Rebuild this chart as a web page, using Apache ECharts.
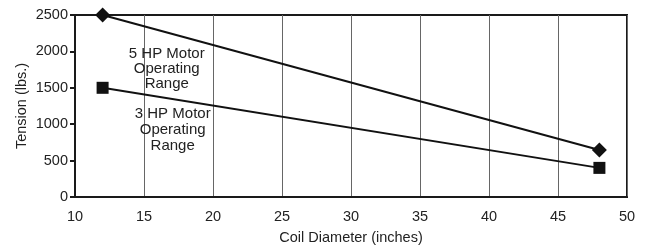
<!DOCTYPE html>
<html>
<head>
<meta charset="utf-8">
<script src="https://cdn.jsdelivr.net/npm/echarts@6/dist/echarts.min.js"></script>
<style>
  html, body { margin: 0; padding: 0; background: #fff; }
  #chart { width: 647px; height: 246px; }
</style>
</head>
<body>
<div id="chart"></div>
<script>
// coil diameter (inches) at the two ends of each range
const diameters = [12, 48];
// tension (lbs.) for each motor
const hp5Tension = [2500, 645];
const hp3Tension = [1500, 400];
const hp5Label = '5 HP Motor\nOperating\nRange';
const hp3Label = '3 HP Motor\nOperating\nRange';

const chart = echarts.init(document.getElementById('chart'));
const font = 'Liberation Sans, Arial, sans-serif';

const option = {
    animation: false,
    grid: {
        left: 75, right: 20, top: 15, bottom: 49,
        outerBoundsMode: 'none',
        show: true, borderColor: '#1a1a1a', borderWidth: 2
    },
    xAxis: {
        type: 'value',
        min: 10, max: 50, interval: 5,
        name: 'Coil Diameter (inches)',
        nameLocation: 'middle',
        nameGap: 33,
        nameTextStyle: { fontFamily: font, fontSize: 14.5, color: '#222' },
        axisLine: { show: true, lineStyle: { color: '#1a1a1a', width: 2 } },
        axisTick: { show: false },
        axisLabel: { fontFamily: font, fontSize: 14.5, color: '#222', margin: 12 },
        splitLine: { show: true, lineStyle: { color: '#666', width: 1 } }
    },
    yAxis: {
        type: 'value',
        min: 0, max: 2500, interval: 500,
        name: 'Tension (lbs.)',
        nameLocation: 'middle',
        nameGap: 46,
        nameMoveOverlap: false,
        nameTextStyle: { fontFamily: font, fontSize: 14.5, color: '#222' },
        axisLine: { show: true, lineStyle: { color: '#1a1a1a', width: 2 } },
        axisTick: { show: true, length: 5, lineStyle: { color: '#1a1a1a', width: 2 } },
        axisLabel: { fontFamily: font, fontSize: 14.5, color: '#222', margin: 7, formatter: v => String(v) },
        splitLine: { show: false }
    },
    series: [
        {
            name: '5 HP',
            type: 'line',
            data: diameters.map((d, i) => [d, hp5Tension[i]]),
            symbol: 'diamond',
            symbolSize: 15,
            itemStyle: { color: '#111' },
            lineStyle: { color: '#111', width: 2 },
            markPoint: {
                symbol: 'rect', symbolSize: 1,
                itemStyle: { color: 'transparent' },
                data: [{
                    coord: [16.65, 1765],
                    label: {
                        show: true, formatter: hp5Label, color: '#222',
                        fontFamily: font, fontSize: 15, lineHeight: 15, align: 'center'
                    }
                }]
            }
        },
        {
            name: '3 HP',
            type: 'line',
            data: diameters.map((d, i) => [d, hp3Tension[i]]),
            symbol: 'rect',
            symbolSize: 12,
            itemStyle: { color: '#111' },
            lineStyle: { color: '#111', width: 2 },
            markPoint: {
                symbol: 'rect', symbolSize: 1,
                itemStyle: { color: 'transparent' },
                data: [{
                    coord: [17.08, 920],
                    label: {
                        show: true, formatter: hp3Label, color: '#222',
                        fontFamily: font, fontSize: 15, lineHeight: 16, align: 'center'
                    }
                }]
            }
        }
    ]
};

chart.setOption(option);
</script>
</body>
</html>
